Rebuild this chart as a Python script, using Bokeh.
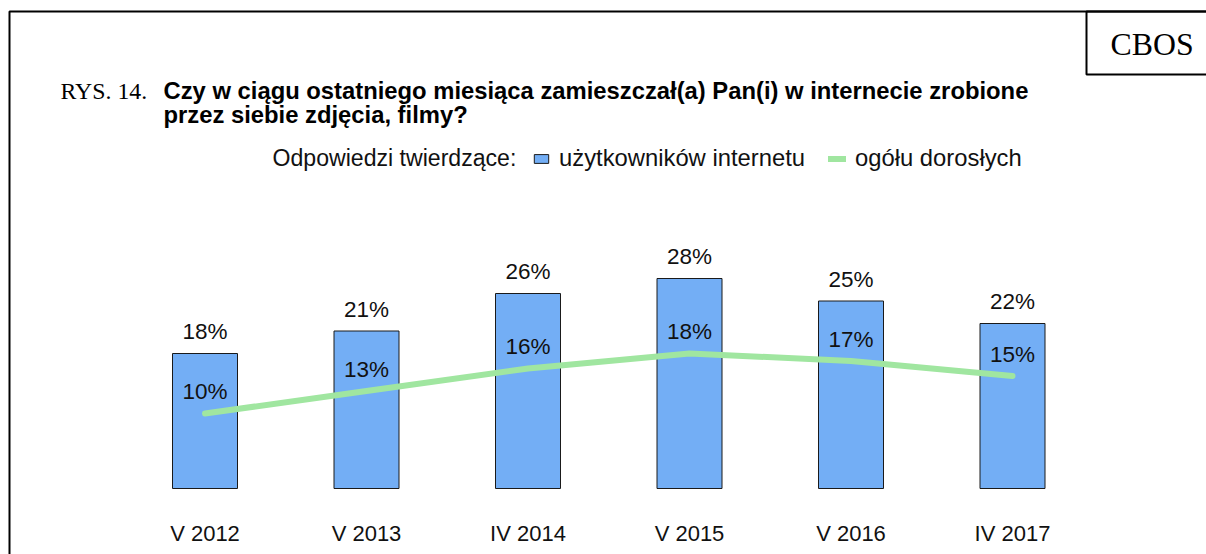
from bokeh.plotting import figure
from bokeh.models import (Range1d, FixedTicker, Label, BoxAnnotation, Legend,
                          LegendItem, ColumnDataSource)
from bokeh.core.properties import value
from bokeh.embed import file_html
from bokeh.resources import INLINE

# ---- data ----
categories = ["V 2012", "V 2013", "IV 2014", "V 2015", "V 2016", "IV 2017"]
internet_users = [18, 21, 26, 28, 25, 22]
all_adults = [10, 13, 16, 18, 17, 15]

title_prefix = "RYS. 14."
title_line1 = "Czy w ciągu ostatniego miesiąca zamieszczał(a) Pan(i) w internecie zrobione"
title_line2 = "przez siebie zdjęcia, filmy?"
legend_title = "Odpowiedzi twierdzące:"
series_names = ["użytkowników internetu", "ogółu dorosłych"]
source_name = "CBOS"

# ---- layout helpers (pixels -> data coordinates) ----
W, H = 1206, 554
STEP = 161.5          # px per category
X0 = -204.5 / STEP
X1 = X0 + W / STEP
PPU = 7.5             # px per percent
Y1 = 488 / PPU
Y0 = Y1 - H / PPU
TXT = 9               # svg text baseline correction


def gx(xp):
    return X0 + xp / STEP


def gy(yp):
    return Y1 - yp / PPU


def ty(yp):
    return gy(yp - TXT)


idx = list(range(len(categories)))
src = ColumnDataSource(dict(
    x=idx,
    users=internet_users,
    adults=all_adults,
    users_lbl=[f"{v}%" for v in internet_users],
    adults_lbl=[f"{v}%" for v in all_adults],
))

p = figure(width=W, height=H, output_backend="svg", toolbar_location=None,
           x_range=Range1d(X0, X1), y_range=Range1d(Y0, Y1),
           y_axis_location=None, min_border=0,
           min_border_left=0, min_border_right=0, min_border_top=0, min_border_bottom=0)
p.outline_line_color = None
p.xgrid.grid_line_color = None
p.ygrid.grid_line_color = None
p.background_fill_color = "white"
p.border_fill_color = "white"

SANS = "Liberation Sans"
SERIF = "Liberation Serif"

# x axis
ax = p.xaxis[0]
ax.ticker = FixedTicker(ticks=idx)
ax.major_label_overrides = {i: c for i, c in zip(idx, categories)}
ax.axis_line_color = None
ax.major_tick_line_color = None
ax.minor_tick_line_color = None
ax.major_tick_out = 0
ax.major_tick_in = 0
ax.major_label_standoff = -34
ax.major_label_text_font = SANS
ax.major_label_text_font_size = "22px"
ax.major_label_text_color = "#111111"

bars = p.vbar(x="x", top="users", bottom=0, width=65 / STEP, source=src,
              fill_color="#73AEF5", line_color="#1a1a1a", line_width=1)
line = p.line(x="x", y="adults", source=src, line_color="#A0E6A0",
              line_width=6, line_cap="round", line_join="round")

p.text(x="x", y="users", text="users_lbl", source=src, text_align="center",
       text_baseline="alphabetic", y_offset=-22, text_font=value(SANS),
       text_font_size="22.5px", text_color="#111111")
p.text(x="x", y="adults", text="adults_lbl", source=src, text_align="center",
       text_baseline="alphabetic", y_offset=-22, text_font=value(SANS),
       text_font_size="22.5px", text_color="#111111")

# outer frame (left and top visible) and CBOS box
p.add_layout(BoxAnnotation(left=gx(9), top=gy(11), right=X1 + 1, bottom=Y0 - 1,
                           fill_alpha=0, line_color="black", line_alpha=1.0,
                           line_width=2))
p.add_layout(BoxAnnotation(left=gx(1086), bottom=gy(74), top=gy(11), right=X1 + 1,
                           fill_alpha=0, line_color="black", line_alpha=1.0,
                           line_width=2))
p.add_layout(Label(x=gx(1110), y=ty(53), text=source_name, text_font=SERIF,
                   text_font_size="31.8px", text_baseline="alphabetic", text_color="black"))

# title
p.add_layout(Label(x=gx(60), y=ty(99), text=title_prefix, text_font=SERIF,
                   text_font_size="23.8px", text_baseline="alphabetic", text_color="black"))
p.add_layout(Label(x=gx(163), y=ty(99), text=title_line1, text_font=SANS,
                   text_font_style="bold", text_font_size="23.8px",
                   text_baseline="alphabetic", text_color="black"))
p.add_layout(Label(x=gx(163), y=ty(123), text=title_line2, text_font=SANS,
                   text_font_style="bold", text_font_size="23.8px",
                   text_baseline="alphabetic", text_color="black"))

# legend
p.add_layout(Label(x=gx(272), y=ty(166), text=legend_title, text_font=SANS,
                   text_font_size="23.1px", text_baseline="alphabetic", text_color="#111111"))
legend = Legend(items=[LegendItem(label=series_names[0], renderers=[bars]),
                       LegendItem(label=series_names[1], renderers=[line])],
                orientation="horizontal", location=(532, 382),
                border_line_color=None, background_fill_alpha=0,
                padding=0, margin=0, spacing=23, label_standoff=9,
                glyph_width=18, glyph_height=11,
                label_text_font=SANS, label_text_font_size="23.8px",
                label_text_color="#111111")
p.add_layout(legend)

open("out.html", "w").write(file_html(p, INLINE))
